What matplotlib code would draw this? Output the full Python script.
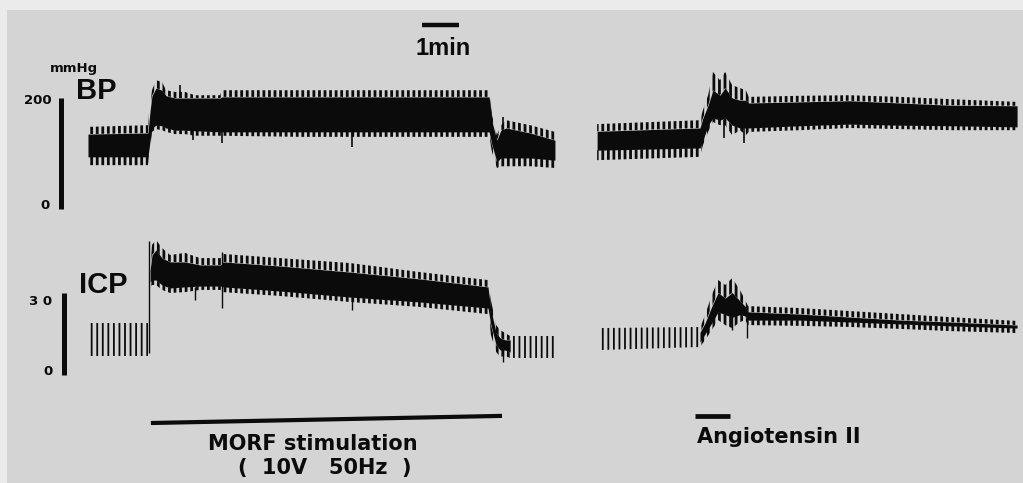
import matplotlib
matplotlib.use("Agg")
import matplotlib.pyplot as plt
from matplotlib.patches import Rectangle

# ---------------- data (time in min, pressure in mmHg) ----------------
# Blood pressure, first recording: envelope of the pulsatile trace
bp1_t      = [0.00, 1.62, 1.68, 1.73, 1.84, 2.00, 2.11, 2.35, 2.62, 2.89, 3.57, 3.62, 5.73, 8.43, 10.84, 10.92, 11.05, 11.16, 11.30, 11.95, 12.62]
bp1_tip_hi = [148, 151, 196, 214, 232, 229, 214, 211, 211, 205, 205, 214, 214, 214, 214, 169, 133, 151, 160, 151, 139]
bp1_hi     = [135, 137, 178, 204, 218, 214, 204, 200, 200, 200, 200, 202, 202, 202, 202, 157, 124, 142, 146, 137, 124]
bp1_lo     = [94, 94, 124, 146, 151, 150, 146, 142, 142, 141, 139, 139, 139, 139, 139, 115, 85, 92, 92, 92, 88]
bp1_tip_lo = [79, 79, 106, 139, 144, 142, 139, 135, 135, 132, 132, 132, 130, 130, 130, 103, 74, 77, 77, 77, 74]

# Blood pressure, second recording (angiotensin II)
bp2_t      = [13.76, 16.54, 16.62, 16.76, 16.89, 17.08, 17.22, 17.41, 17.62, 17.78, 17.86, 19.24, 20.59, 21.95, 23.30, 25.11]
bp2_tip_hi = [153, 160, 178, 205, 247, 232, 247, 223, 218, 214, 202, 204, 205, 202, 198, 193]
bp2_hi     = [140, 146, 164, 187, 214, 205, 218, 200, 196, 196, 191, 193, 195, 191, 187, 186]
bp2_lo     = [106, 110, 124, 151, 164, 160, 164, 151, 146, 146, 146, 150, 153, 151, 150, 148]
bp2_tip_lo = [88, 94, 115, 139, 157, 151, 151, 133, 142, 133, 139, 142, 146, 144, 142, 142]

# isolated BP artefact spikes: time, low, high
bp_spk_t  = [2.49, 2.84, 3.62, 7.14, 11.22, 17.19, 17.73]
bp_spk_lo = [200, 124, 119, 112, 140, 128, 119]
bp_spk_hi = [223, 141, 139, 139, 166, 160, 150]

# Intracranial pressure, low-amplitude (thin) parts
icp_thin1_t, icp_thin1_hi, icp_thin1_lo = [0.05, 1.62], [19.0, 19.0], [6.8, 6.8]
icp_thin2_t, icp_thin2_hi, icp_thin2_lo = [11.41, 12.68], [14.2, 14.2], [6.2, 6.2]
icp_thin3_t, icp_thin3_hi, icp_thin3_lo = [13.84, 16.54], [17.1, 17.5], [9.1, 10.2]

# ICP during MORF stimulation
icp1_t      = [1.68, 1.73, 1.84, 2.00, 2.22, 2.62, 3.03, 3.59, 3.65, 5.19, 7.08, 8.97, 10.81, 10.89, 11.03, 11.14, 11.27, 11.41]
icp1_tip_hi = [41.2, 47.4, 49.2, 46.3, 43.7, 44.5, 42.6, 42.6, 44.1, 42.6, 40.8, 37.5, 34.6, 27.3, 18.2, 16.4, 15.3, 14.2]
icp1_hi     = [38.3, 43.7, 45.6, 42.6, 41.2, 41.2, 40.1, 40.1, 41.2, 39.7, 37.5, 35.0, 32.1, 23.7, 15.3, 13.5, 12.8, 12.8]
icp1_lo     = [33.9, 34.6, 34.6, 32.8, 31.7, 32.1, 32.4, 32.4, 32.1, 30.6, 28.4, 26.6, 24.4, 18.2, 10.9, 9.1, 9.1, 8.4]
icp1_tip_lo = [31.7, 32.8, 32.8, 31.0, 29.9, 30.2, 31.0, 31.0, 30.2, 28.8, 26.6, 24.8, 22.2, 14.6, 8.4, 6.6, 6.9, 6.2]

# ICP after angiotensin II
icp2_t      = [16.54, 16.68, 16.86, 17.03, 17.22, 17.41, 17.62, 17.76, 17.84, 19.24, 20.59, 21.95, 23.30, 25.11]
icp2_tip_hi = [17.1, 21.9, 29.2, 34.6, 32.8, 35.3, 31.0, 27.3, 25.1, 24.4, 23.3, 22.2, 21.1, 19.7]
icp2_hi     = [15.5, 19.0, 25.0, 30.0, 28.0, 30.0, 27.0, 25.0, 23.0, 22.2, 21.1, 20.0, 19.3, 18.2]
icp2_lo     = [12.0, 15.0, 19.0, 23.0, 22.0, 21.0, 22.0, 21.5, 20.0, 20.0, 19.3, 18.6, 17.9, 17.1]
icp2_tip_lo = [10.2, 12.8, 16.4, 20.0, 18.2, 17.1, 19.3, 20.0, 18.2, 17.9, 17.5, 16.8, 16.0, 15.3]

icp_spk_t  = [1.66, 2.89, 3.62, 7.14, 11.22, 17.41, 17.81]
icp_spk_lo = [8.0, 27.3, 24.4, 23.7, 4.7, 16.4, 13.5]
icp_spk_hi = [49.0, 32.0, 44.8, 30.0, 10.0, 30.0, 22.0]

# scale bars / event markers
bp_scale = [0, 200]
icp_scale = [0, 30]
time_bar = [9.03, 10.03]          # 1 min
morf_t = [1.70, 11.19]            # stimulation period
angio_t = [16.41, 17.35]          # angiotensin II infusion

# ---------------- figure ----------------
W, H, DPI = 1023, 483, 100
INK = "#0b0b0b"

fig = plt.figure(figsize=(W / DPI, H / DPI), dpi=DPI, facecolor="#ebebeb")
fig.patches.append(Rectangle((7 / W, 0), 1, (H - 10) / H, transform=fig.transFigure,
                             facecolor="#d4d4d4", edgecolor="none", zorder=-5))

XLIM = (-2.378, 25.27)
ax_bp = fig.add_axes([0, 0, 1, 1])
ax_bp.set_xlim(XLIM)
ax_bp.set_ylim(-493.7, 376.6)
ax_icp = fig.add_axes([0, 0, 1, 1])
ax_icp.set_xlim(XLIM)
ax_icp.set_ylim(-39.36, 136.65)
for a in (ax_bp, ax_icp):
    a.axis("off")
    a.patch.set_visible(False)


def hatched(ax, t, lo, hi, lw, pattern="|||"):
    with plt.rc_context({"hatch.linewidth": lw}):
        pc = ax.fill_between(t, lo, hi, facecolor="none", edgecolor=INK, hatch=pattern, lw=0)
    if hasattr(pc, "set_hatch_linewidth"):
        pc.set_hatch_linewidth(lw)
    return pc


def band(ax, t, tip_hi, hi, lo, tip_lo):
    ax.fill_between(t, lo, hi, color=INK, lw=0)
    hatched(ax, t, hi, tip_hi, 2.0)
    hatched(ax, t, tip_lo, lo, 2.0)


def thin(ax, t, hi, lo):
    hatched(ax, t, lo, hi, 1.3, "|||")


band(ax_bp, bp1_t, bp1_tip_hi, bp1_hi, bp1_lo, bp1_tip_lo)
band(ax_bp, bp2_t, bp2_tip_hi, bp2_hi, bp2_lo, bp2_tip_lo)
ax_bp.vlines(bp_spk_t, bp_spk_lo, bp_spk_hi, color=INK, lw=1.2)

thin(ax_icp, icp_thin1_t, icp_thin1_hi, icp_thin1_lo)
thin(ax_icp, icp_thin2_t, icp_thin2_hi, icp_thin2_lo)
thin(ax_icp, icp_thin3_t, icp_thin3_hi, icp_thin3_lo)
band(ax_icp, icp1_t, icp1_tip_hi, icp1_hi, icp1_lo, icp1_tip_lo)
band(ax_icp, icp2_t, icp2_tip_hi, icp2_hi, icp2_lo, icp2_tip_lo)
ax_icp.vlines(icp_spk_t, icp_spk_lo, icp_spk_hi, color=INK, lw=1.0)

# scale bars
ax_bp.plot([-0.73, -0.73], bp_scale, color=INK, lw=3.6, solid_capstyle="butt")
ax_icp.plot([-0.65, -0.65], icp_scale, color=INK, lw=3.6, solid_capstyle="butt")
ax_bp.plot(time_bar, [331.5, 331.5], color=INK, lw=3.2, solid_capstyle="butt")
ax_icp.plot(morf_t, [-17.5, -14.9], color=INK, lw=3.0, solid_capstyle="butt")
ax_icp.plot(angio_t, [-15.1, -15.1], color=INK, lw=3.4, solid_capstyle="butt")

# texts
LAB = ["Liberation Sans", "DejaVu Sans"]
DJ = "DejaVu Sans"
ax_bp.text(9.6, 276.6, "1min", ha="center", va="baseline", fontsize=17, fontweight="bold", family=LAB, color=INK)
ax_bp.text(-1.03, 247.7, "mmHg", ha="left", va="baseline", fontsize=9.5, fontweight="bold", family=DJ, color=INK)
ax_bp.text(-0.32, 198.2, "BP", ha="left", va="baseline", fontsize=21, fontweight="bold", family=LAB, color=INK)
ax_bp.text(-0.97, 189.2, "200", ha="right", va="baseline", fontsize=9.5, fontweight="bold", family=DJ, color=INK)
ax_bp.text(-1.03, 0, "0", ha="right", va="baseline", fontsize=9.5, fontweight="bold", family=DJ, color=INK)
ax_icp.text(-0.24, 29.9, "ICP", ha="left", va="baseline", fontsize=21, fontweight="bold", family=LAB, color=INK)
ax_icp.text(-0.97, 25.5, "3 0", ha="right", va="baseline", fontsize=9.5, fontweight="bold", family=DJ, color=INK)
ax_icp.text(-0.95, 0, "0", ha="right", va="baseline", fontsize=9.5, fontweight="bold", family=DJ, color=INK)

ax_icp.text(6.08, -27.3, "MORF stimulation", ha="center", va="baseline", fontsize=15, fontweight="bold", family=DJ, color=INK)
ax_icp.text(6.41, -36.1, "(  10V   50Hz  )", ha="center", va="baseline", fontsize=15, fontweight="bold", family=DJ, color=INK)
ax_icp.text(16.46, -24.9, "Angiotensin II", ha="left", va="baseline", fontsize=15, fontweight="bold", family=DJ, color=INK)

fig.savefig("out.png", dpi=DPI, facecolor=fig.get_facecolor())
